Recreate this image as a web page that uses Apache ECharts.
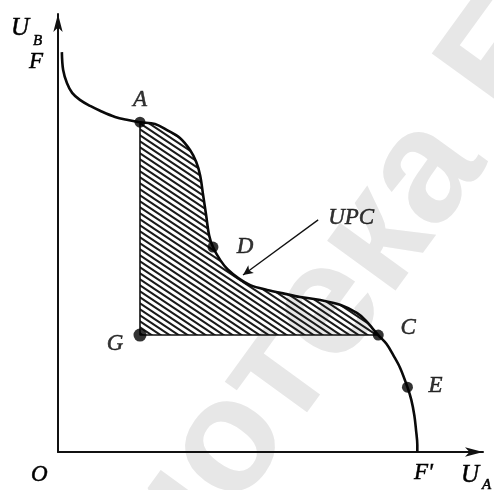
<!DOCTYPE html>
<html>
<head>
<meta charset="utf-8">
<script src="https://cdn.jsdelivr.net/npm/echarts@6/dist/echarts.min.js"></script>
<style>
  html, body { margin: 0; padding: 0; background: #fff; }
  #chart { width: 494px; height: 490px; }
</style>
</head>
<body>
<div id="chart"></div>
<script>
// Utility possibility curve (UPC): U_A on the horizontal axis, U_B on the vertical axis.
const upcX = [0.9, 1.2, 2.1, 3.3, 5.1, 7.5, 9.8, 13.3, 16.3, 19.1, 22.6, 25.4, 28.4, 30.8, 32.2, 33.1,
  33.8, 34.5, 35.2, 36.1, 37.8, 39.6, 42.0, 44.8, 48.7, 52.9, 56.4, 61.1, 65.7, 69.7, 71.6, 73.2,
  74.6, 76.5, 78.1, 79.7, 81.4, 82.3, 83.0, 83.4, 83.7, 83.7];
const upcY = [91.3, 87.2, 84.2, 82.0, 80.4, 79.0, 77.9, 76.5, 75.8, 75.3, 74.9, 73.5, 71.7, 68.9, 66.2, 63.2,
  58.7, 54.1, 49.5, 46.8, 43.8, 41.6, 39.7, 38.1, 37.0, 36.1, 35.4, 34.7, 33.6, 31.7, 30.1, 28.3,
  26.7, 24.7, 22.1, 19.2, 14.8, 11.9, 8.4, 5.0, 1.6, 0];

// Part of the curve that bounds the hatched region (from A to C)
const hatchFrom = 9;
const hatchTo = 32;

// Marked points
const pointNames = ['A', 'D', 'C', 'E', 'G'];
const pointX = [19.1, 36.1, 74.6, 81.4, 19.1];
const pointY = [75.3, 46.8, 26.7, 14.8, 26.7];
const pointLabelOffsets = [[0, -22], [32, 0], [30, -7], [28, -1], [-25, 9]];

// Pointer from the "UPC" caption to the curve
const pointerFrom = [60.6, 53.0];
const pointerTo = [43.1, 40.4];
const pointerCaption = 'UPC';

const curve = upcX.map((x, i) => [x, upcY[i]]);
const hatchCurve = curve.slice(hatchFrom, hatchTo + 1);
const gIndex = pointNames.indexOf('G');
const aIndex = pointNames.indexOf('A');
const cIndex = pointNames.indexOf('C');

// Diagonal hatch tile (lines falling to the right, ~34°)
function hatchTile() {
  const w = 9, h = 6;
  const c = document.createElement('canvas');
  c.width = w; c.height = h;
  const g = c.getContext('2d');
  g.strokeStyle = '#1a1a1a';
  g.lineWidth = 2;
  g.beginPath();
  for (let k = -1; k <= 1; k++) {
    g.moveTo(-w, -h + k * h);
    g.lineTo(2 * w, 2 * h + k * h);
  }
  g.stroke();
  return c;
}

const serif = '"Liberation Serif", "DejaVu Serif", serif';
const labelFont = {
  fontFamily: serif, fontStyle: 'italic', fontSize: 23, color: '#000',
  textBorderColor: '#000', textBorderWidth: 0.5
};

// Faint diagonal watermark
const wmText = 'Библиотека БГУИР';
const wmFont = 'bold 160px "Liberation Sans"';
const mctx = document.createElement('canvas').getContext('2d');
mctx.font = wmFont;
const wmShift = mctx.measureText('Библи').width + mctx.measureText('о').width / 2;

function axisText(x, y, text, size) {
  return {
    type: 'text', x, y,
    style: { text, font: 'italic ' + size + 'px ' + serif, fill: '#000', stroke: '#000', lineWidth: 0.5 }
  };
}

const chart = echarts.init(document.getElementById('chart'), null, { renderer: 'canvas' });

chart.setOption({
  backgroundColor: '#fff',
  animation: false,
  grid: { left: 58, right: 11, top: 14, bottom: 38 },
  xAxis: {
    type: 'value', min: 0, max: 99,
    axisLine: { lineStyle: { color: '#111', width: 2 }, symbol: ['none', 'arrow'], symbolSize: [7, 18] },
    axisTick: { show: false }, axisLabel: { show: false }, splitLine: { show: false }
  },
  yAxis: {
    type: 'value', min: 0, max: 100,
    axisLine: { lineStyle: { color: '#111', width: 2 }, symbol: ['none', 'arrow'], symbolSize: [7, 18] },
    axisTick: { show: false }, axisLabel: { show: false }, splitLine: { show: false }
  },
  graphic: [
    {
      type: 'group', x: 235, y: 450, rotation: 54 * Math.PI / 180, z: -10, silent: true,
      children: [{
        type: 'text', x: -wmShift, y: -8,
        style: { text: wmText, font: wmFont, fill: '#e7e7e7', textVerticalAlign: 'middle' }
      }]
    },
    axisText(11, 16, 'U', 25),
    axisText(33, 34, 'B', 15),
    axisText(29, 50, 'F', 23),
    axisText(31, 463, 'O', 23),
    axisText(414, 461, "F'", 23),
    axisText(461, 463, 'U', 25),
    axisText(482, 478, 'A', 15)
  ],
  series: [
    {
      // hatched region between A, C and the level of G
      type: 'line', data: hatchCurve, smooth: 0.35, symbol: 'none', z: 2,
      lineStyle: { width: 0 },
      areaStyle: { origin: pointY[gIndex], color: { image: hatchTile(), repeat: 'repeat' }, opacity: 1 }
    },
    {
      // edges A–G–C
      type: 'line', symbol: 'none', z: 3,
      data: [[pointX[aIndex], pointY[aIndex]], [pointX[gIndex], pointY[gIndex]], [pointX[cIndex], pointY[cIndex]]],
      lineStyle: { color: '#111', width: 1.6 }
    },
    {
      // the utility possibility curve itself
      type: 'line', data: curve, smooth: 0.35, symbol: 'none', z: 4,
      lineStyle: { color: '#0a0a0a', width: 2.6 },
      markLine: {
        silent: true, symbol: ['none', 'arrow'], symbolSize: [7, 10],
        lineStyle: { color: '#111', width: 1.3, type: 'solid' },
        label: { show: false },
        data: [[{ coord: pointerFrom }, { coord: pointerTo }]]
      }
    },
    {
      type: 'scatter', z: 5, symbolSize: 11,
      itemStyle: { color: '#000' },
      data: pointNames.map((n, i) => ({
        value: [pointX[i], pointY[i]], name: n,
        symbolSize: n === 'G' ? 13 : 11,
        label: { show: true, formatter: n, position: 'inside', offset: pointLabelOffsets[i], ...labelFont }
      }))
    },
    {
      type: 'scatter', z: 5, symbolSize: 0,
      data: [{
        value: pointerFrom, name: pointerCaption,
        label: { show: true, formatter: pointerCaption, position: 'right', distance: 10, offset: [0, -2], ...labelFont }
      }]
    }
  ]
});
</script>
</body>
</html>
